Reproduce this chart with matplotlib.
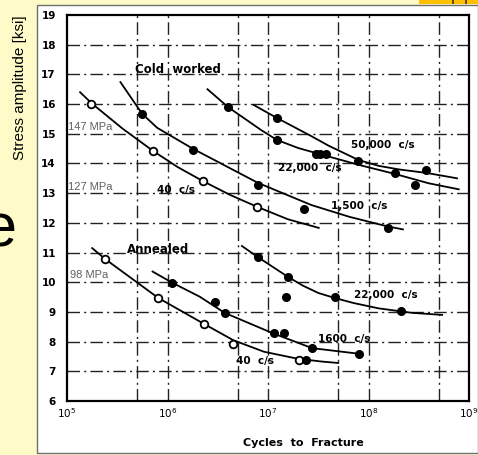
import matplotlib
matplotlib.use("Agg")
import matplotlib.pyplot as plt
from matplotlib.patches import Rectangle

# S-N data, cycles to fracture vs stress amplitude (ksi)
# --- cold worked ---
cw40_pts_n = [1.74e5, 7.2e5, 2.24e6, 7.8e6]
cw40_pts_s = [16.0, 14.42, 13.41, 12.54]
cw40_fit_n = [1.35e5, 1.74e5, 3.55e5, 7.2e5, 1.26e6, 2.24e6, 4.2e6, 7.8e6, 1.58e7, 3.2e7]
cw40_fit_s = [16.4, 16.04, 15.18, 14.42, 13.88, 13.41, 12.94, 12.54, 12.12, 11.83]

cw1500_pts_n = [5.6e5, 1.78e6, 7.9e6, 2.3e7, 1.55e8]
cw1500_pts_s = [15.67, 14.45, 13.28, 12.47, 11.83]
cw1500_fit_n = [3.4e5, 5.6e5, 7.9e5, 1.78e6, 7.9e6, 2.7e7, 6.5e7, 1.55e8, 2.2e8]
cw1500_fit_s = [16.74, 15.67, 15.2, 14.5, 13.35, 12.6, 12.2, 11.88, 11.78]

cw22k_pts_n = [4.0e6, 1.23e7, 3.0e7, 3.3e7, 3.8e7, 1.82e8, 2.9e8]
cw22k_pts_s = [15.9, 14.79, 14.32, 14.32, 14.32, 13.68, 13.28]
cw22k_fit_n = [2.5e6, 4.0e6, 8.5e6, 1.23e7, 2.0e7, 3.4e7, 8.5e7, 1.82e8, 4.0e8, 7.9e8]
cw22k_fit_s = [16.5, 15.9, 15.13, 14.79, 14.52, 14.3, 13.93, 13.65, 13.33, 13.13]

cw50k_pts_n = [1.23e7, 7.9e7, 3.7e8]
cw50k_pts_s = [15.53, 14.08, 13.78]
cw50k_fit_n = [7.2e6, 1.23e7, 2.7e7, 4.0e7, 7.9e7, 1.26e8, 2.0e8, 3.8e8, 7.6e8]
cw50k_fit_s = [15.97, 15.53, 14.92, 14.6, 14.12, 13.92, 13.8, 13.68, 13.5]

# --- annealed ---
an40_pts_n = [2.4e5, 8.1e5, 2.3e6, 4.5e6, 2.05e7]
an40_pts_s = [10.78, 9.47, 8.6, 7.92, 7.37]
an40_fit_n = [1.78e5, 2.4e5, 8.1e5, 2.3e6, 4.5e6, 9.1e6, 2.0e7, 3.4e7, 5.0e7]
an40_fit_s = [11.15, 10.78, 9.47, 8.6, 8.05, 7.66, 7.42, 7.33, 7.28]

an1600_pts_n = [1.12e6, 3.0e6, 3.7e6, 1.15e7, 1.45e7, 2.75e7, 8.1e7, 2.4e7]
an1600_pts_s = [9.98, 9.34, 8.97, 8.29, 8.3, 7.79, 7.59, 7.38]
an1600_fit_n = [7.1e5, 1.12e6, 2.1e6, 3.7e6, 1.12e7, 2.75e7, 8.1e7]
an1600_fit_s = [10.36, 9.98, 9.51, 8.97, 8.28, 7.78, 7.59]

an22k_pts_n = [7.9e6, 1.58e7, 1.5e7, 4.6e7, 2.1e8]
an22k_pts_s = [10.85, 10.18, 9.5, 9.5, 9.03]
an22k_fit_n = [5.5e6, 7.9e6, 1.58e7, 2.24e7, 3.16e7, 4.6e7, 7.1e7, 1.26e8, 2.7e8, 5.4e8]
an22k_fit_s = [11.22, 10.85, 10.18, 9.88, 9.64, 9.47, 9.3, 9.12, 8.97, 8.9]

grid_n = [5e5, 1e6, 5e6, 1e7, 5e7, 1e8, 5e8]
grid_s = list(range(7, 19))
xticks = [1e5, 1e6, 1e7, 1e8, 1e9]
xtick_labels = ["$10^5$", "$10^6$", "$10^7$", "$10^8$", "$10^9$"]
yticks = list(range(6, 20))

fig = plt.figure(figsize=(4.78, 4.55), dpi=100, facecolor="#fffbc8")

# white scan area with thin border (behind the axes)
fig.patches.append(Rectangle((37 / 478, 1 - 453 / 455), 441 / 478, 448 / 455,
                             transform=fig.transFigure, facecolor="white",
                             edgecolor="#707070", lw=1.0, zorder=-5))
# orange box in the top right corner
fig.patches.append(Rectangle((419 / 478, 1 - 3.5 / 455), 59 / 478, 3.5 / 455,
                             transform=fig.transFigure, facecolor="#ffc000",
                             edgecolor="none", zorder=-4))
for bx in (452, 465):
    fig.patches.append(Rectangle((bx / 478, 1 - 3.5 / 455), 2 / 478, 3.5 / 455,
                                 transform=fig.transFigure, facecolor="#6a4a00",
                                 edgecolor="none", zorder=-4))

fig.text(16 / 478, 1 - 247 / 455, "e", family="Liberation Sans", fontsize=44,
         ha="right", va="baseline", color="black")
fig.text(20 / 478, 1 - 88 / 455, "Stress amplitude [ksi]", family="Liberation Sans",
         fontsize=11, rotation=90, ha="center", va="center")

ax = fig.add_axes([67 / 478, 1 - 401 / 455, 402 / 478, 386 / 455])
ax.set_facecolor("none")
ax.set_xscale("log")
ax.set_xlim(1e5, 1e9)
ax.set_ylim(6, 19)

dash = (0, (9, 3, 1.5, 3))
for g in grid_n:
    ax.axvline(g, color="#222222", lw=1.0, linestyle=dash, zorder=1)
for g in grid_s:
    ax.axhline(g, color="#222222", lw=1.0, linestyle=dash, zorder=1)

fits = [(cw40_fit_n, cw40_fit_s), (cw1500_fit_n, cw1500_fit_s),
        (cw22k_fit_n, cw22k_fit_s), (cw50k_fit_n, cw50k_fit_s),
        (an40_fit_n, an40_fit_s), (an1600_fit_n, an1600_fit_s),
        (an22k_fit_n, an22k_fit_s)]
for n, s in fits:
    ax.plot(n, s, color="black", lw=1.3, zorder=2)

for n, s in [(cw40_pts_n, cw40_pts_s), (an40_pts_n, an40_pts_s)]:
    ax.plot(n, s, "o", ms=5.5, mfc="white", mec="black", mew=1.3, zorder=3)
for n, s in [(cw1500_pts_n, cw1500_pts_s), (cw22k_pts_n, cw22k_pts_s),
             (cw50k_pts_n, cw50k_pts_s), (an1600_pts_n, an1600_pts_s),
             (an22k_pts_n, an22k_pts_s)]:
    ax.plot(n, s, "o", ms=5.5, mfc="black", mec="black", zorder=3)

lab = dict(fontsize=7.5, fontweight="bold", va="center", ha="left", zorder=4)
head = dict(lab, fontsize=8.5)
ax.text(10**5.68, 17.15, "Cold  worked", **head)
ax.text(10**5.60, 11.09, "Annealed", **head)
ax.text(10**7.83, 14.62, "50,000  c/s", **lab)
ax.text(10**7.10, 13.85, "22,000  c/s", **lab)
ax.text(10**7.63, 12.57, "1,500  c/s", **lab)
ax.text(10**5.90, 13.10, "40  c/s", **lab)
ax.text(10**7.86, 9.57, "22,000  c/s", **lab)
ax.text(10**7.50, 8.09, "1600  c/s", **lab)
ax.text(10**6.68, 7.35, "40  c/s", **lab)

mpa = dict(family="Liberation Sans", fontsize=8, color="#606060", va="center", ha="left")
ax.text(10**5.01, 15.23, "147 MPa", **mpa)
ax.text(10**5.01, 13.2, "127 MPa", **mpa)
ax.text(10**5.03, 10.25, "98 MPa", **mpa)

ax.set_xticks(xticks)
ax.set_xticklabels(xtick_labels)
ax.xaxis.set_minor_locator(matplotlib.ticker.NullLocator())
ax.set_yticks(yticks)
ax.set_yticklabels([str(v) for v in yticks], fontweight="bold")
ax.tick_params(axis="both", length=0, labelsize=7.5)
ax.tick_params(axis="x", pad=4)
ax.tick_params(axis="y", pad=8)
for sp in ax.spines.values():
    sp.set_linewidth(1.6)

fig.text(303 / 478, 1 - 443 / 455, "Cycles  to  Fracture", fontsize=8,
         fontweight="bold", ha="center", va="center")

fig.savefig("out.png", dpi=100, facecolor=fig.get_facecolor())
